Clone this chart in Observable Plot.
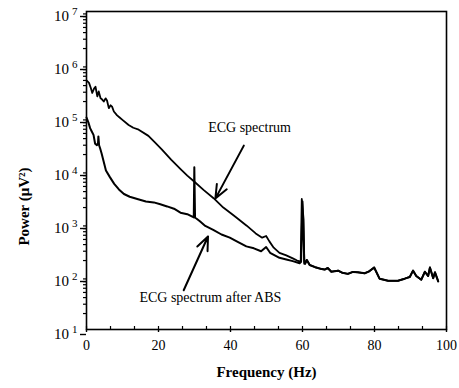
<!DOCTYPE html>
<html>
<head>
<meta charset="utf-8">
<script src="https://cdn.jsdelivr.net/npm/d3@7"></script>
<script src="https://cdn.jsdelivr.net/npm/@observablehq/plot@0.6"></script>
<style>
  html, body { margin: 0; padding: 0; background: #fff; }
  #chart svg { display: block; }
</style>
</head>
<body>
<div id="chart"></div>
<script>
// ECG spectrum (before ABS), frequency in Hz, power in µV²
const ecgFreq  = [0, 0.7, 1.2, 1.6, 2.1, 2.5, 3.0, 3.4, 3.9, 4.3, 4.8, 5.3, 5.7, 6.2, 6.7, 7.1, 7.6, 8.5, 9.2, 9.9,
  11.7, 13.0, 14.5, 17.2, 19.0, 20.9, 23.5, 26.2, 28.0, 29.9, 32.5, 35.3, 38.0, 41.0, 44.5, 47.0, 48.8, 49.9, 50.8,
  52.0, 53.6, 55.5, 57.3, 58.5, 59.5, 59.8, 60.3, 60.5];
const ecgPower = [5.0e5, 4.5e5, 3.6e5, 2.9e5, 3.5e5, 3.8e5, 2.5e5, 3.1e5, 2.3e5, 2.2e5, 2.0e5, 2.3e5, 2.1e5, 1.5e5, 1.7e5, 1.6e5, 1.3e5, 1.1e5, 1.0e5, 9.1e4,
  7.2e4, 6.4e4, 5.9e4, 4.5e4, 3.4e4, 2.5e4, 1.6e4, 1.05e4, 8.0e3, 6.2e3, 4.3e3, 3.0e3, 2.0e3, 1.4e3, 910, 650, 540, 580, 460,
  350, 280, 250, 220, 200, 190, 2900, 1200, 190];

// ECG spectrum after ABS
const absFreq  = [0, 0.6, 1.0, 1.5, 1.95, 2.4, 2.9, 3.2, 3.3, 3.5, 3.8, 4.2, 5.4, 6.5, 7.7, 9.0, 10.4, 12.0, 14.1, 16.5,
  18.7, 20.5, 22.4, 24.3, 26.1, 28.0, 29.8, 29.95, 30.15, 31.5, 33.0, 35.2, 37.5, 39.8, 42.0, 44.4, 46.5, 48.5, 49.9,
  51.0, 53.6, 55.5, 57.3, 59.2, 59.6, 60.0, 60.5];
const absPower = [1.0e5, 7.8e4, 6.3e4, 5.4e4, 4.7e4, 3.2e4, 3.0e4, 3.3e4, 4.4e4, 3.0e4, 2.6e4, 2.1e4, 1.0e4, 7.5e3, 5.6e3, 4.4e3, 3.6e3, 3.2e3, 2.9e3, 2.6e3,
  2.5e3, 2.3e3, 2.1e3, 1.9e3, 1.6e3, 1.5e3, 1.3e3, 1.15e4, 1.3e3, 1.1e3, 900, 760, 620, 540, 450, 370, 340, 300, 360,
  280, 225, 210, 195, 178, 190, 2600, 175];

// Above 60 Hz both spectra coincide
const tailFreq  = [60.7, 61.2, 62.0, 63.5, 65.0, 66.2, 67.0, 68.0, 69.9, 71.0, 72.6, 74.0, 75.4, 77.3, 78.5, 79.9, 81.4,
  83.8, 86.5, 88.4, 89.8, 90.7, 91.6, 93.0, 94.0, 94.9, 95.4, 96.3, 96.8, 97.7];
const tailPower = [174, 205, 165, 150, 140, 135, 145, 123, 129, 118, 112, 122, 120, 115, 125, 148, 91,
  83, 83, 91, 98, 129, 102, 87, 123, 102, 148, 93, 120, 81];

// Axis ticks
const xTicks = [0, 20, 40, 60, 80, 100];
const xMinorTicks = [0, 6.67, 13.33, 20, 26.67, 33.33, 40, 46.67, 53.33, 60, 66.67, 73.33, 80, 86.67, 93.33, 100];
const yExponents = [1, 2, 3, 4, 5, 6, 7];
const yMinorMultipliers = [2, 3, 4, 5, 6, 7, 8, 9];

// Annotations (data coordinates)
const labelText = ["ECG spectrum", "ECG spectrum after ABS"];
const labelFreq = [45.3, 34.4];
const labelPower = [6.4e4, 40];
const arrowFrom = [[43.7, 2.95e4], [27.0, 55]];
const arrowTo   = [[35.8, 2.95e3], [33.75, 569]];

const toRows = (fs, ps) => fs.map((f, i) => ({f, p: ps[i]}));
const ecg = toRows(ecgFreq.concat(tailFreq), ecgPower.concat(tailPower));
const abs = toRows(absFreq.concat(tailFreq), absPower.concat(tailPower));

const yMajor = yExponents.map(e => Math.pow(10, e));
const yMinor = [];
for (const e of yExponents.slice(0, -1)) for (const m of yMinorMultipliers) yMinor.push(m * Math.pow(10, e));

const labels = labelText.map((t, i) => ({t, f: labelFreq[i], p: labelPower[i]}));
const arrows = arrowFrom.map((a, i) => ({x1: a[0], y1: a[1], x2: arrowTo[i][0], y2: arrowTo[i][1]}));

const chart = Plot.plot({
  width: 459,
  height: 388,
  marginLeft: 86,
  marginRight: 13,
  marginTop: 11,
  marginBottom: 59,
  style: {fontFamily: "'Liberation Serif', 'Times New Roman', serif", fontSize: "14px", background: "#fff", color: "#000"},
  x: {domain: [0, 100]},
  y: {type: "log", domain: [10, 1e7]},
  marks: [
    Plot.frame({stroke: "#000", strokeWidth: 1.6}),
    Plot.axisY({ticks: yMinor, tickSize: 3, tickFormat: null, text: null, strokeWidth: 1.2, label: null}),
    Plot.axisY({ticks: yMajor, tickSize: 6, tickPadding: 3, strokeWidth: 1.4, label: null,
      tickFormat: d => "10|" + Math.round(Math.log10(d)), dy: 5, fontSize: 15}),
    Plot.axisX({ticks: xMinorTicks, tickSize: 3, text: null, label: null, dy: -3, strokeWidth: 1.2}),
    Plot.axisX({ticks: xTicks, tickSize: 3, tickPadding: 8, label: null, strokeWidth: 1.4, fontSize: 14}),
    Plot.line(abs, {x: "f", y: "p", stroke: "#000", strokeWidth: 2, curve: "linear"}),
    Plot.line(ecg, {x: "f", y: "p", stroke: "#000", strokeWidth: 1.8, curve: "linear"}),
    Plot.arrow(arrows, {x1: "x1", y1: "y1", x2: "x2", y2: "y2", stroke: "#000", strokeWidth: 2, headLength: 11, headAngle: 45}),
    Plot.text(labels, {x: "f", y: "p", text: "t", fontSize: 14, fill: "#000", textAnchor: "middle", lineAnchor: "middle"}),
    Plot.text(["Frequency (Hz)"], {frameAnchor: "bottom", dy: 43, fontSize: 15, fontWeight: "bold", fill: "#000", lineAnchor: "middle"}),
    Plot.text(["Power (\u03bcV\u00b2)"], {frameAnchor: "left", dx: -62, dy: 36, rotate: -90, fontSize: 15, fontWeight: "bold", fill: "#000", textAnchor: "middle", lineAnchor: "middle"})
  ]
});

// Render y tick labels as 10 with a raised exponent
chart.querySelectorAll('g[aria-label="y-axis tick label"] text').forEach(t => {
  const parts = t.textContent.split("|");
  if (parts.length !== 2) return;
  t.textContent = "";
  const ns = "http://www.w3.org/2000/svg";
  const base = document.createElementNS(ns, "tspan");
  base.textContent = parts[0];
  const ex = document.createElementNS(ns, "tspan");
  ex.textContent = parts[1];
  ex.setAttribute("font-size", "11");
  ex.setAttribute("dx", "3");
  ex.setAttribute("dy", "-6");
  t.appendChild(base);
  t.appendChild(ex);
});

document.getElementById("chart").appendChild(chart);
</script>
</body>
</html>
